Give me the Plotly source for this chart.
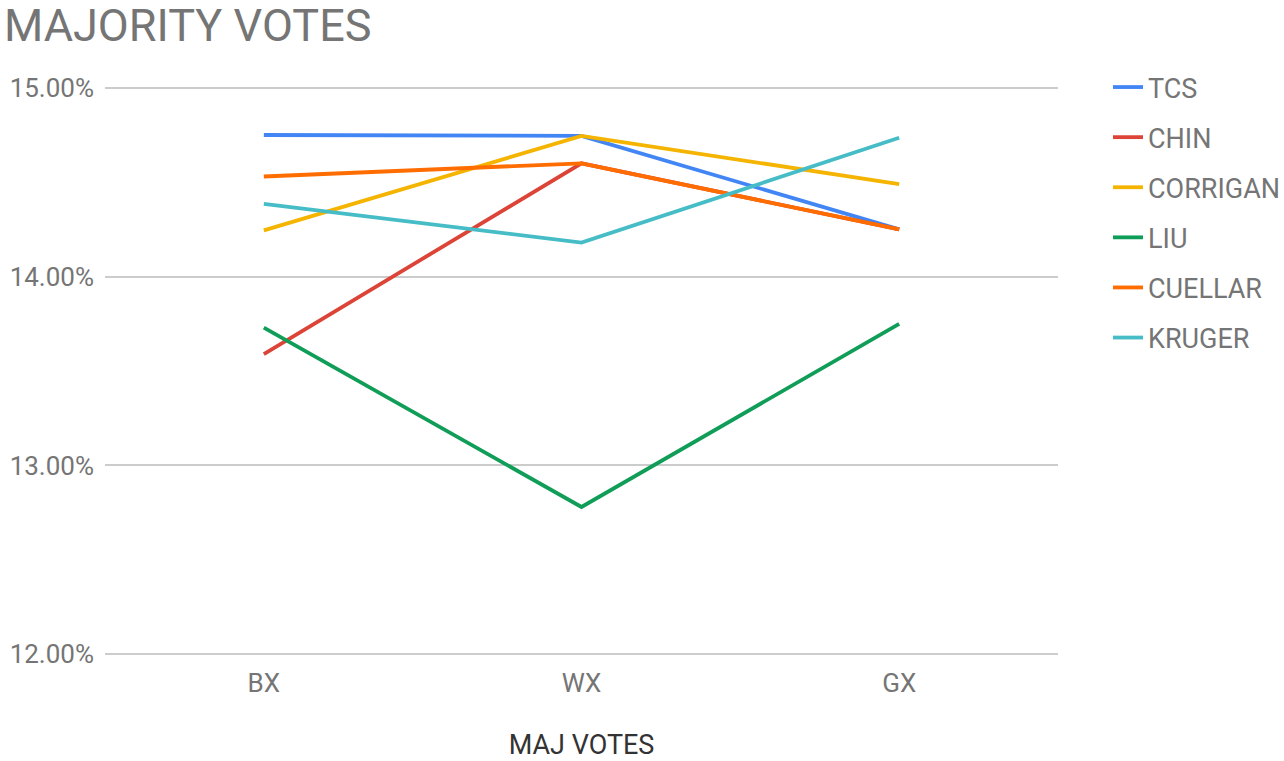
import plotly.graph_objects as go

categories = ["BX", "WX", "GX"]
series_names = ["TCS", "CHIN", "CORRIGAN", "LIU", "CUELLAR", "KRUGER"]
tcs = [14.75, 14.745, 14.25]
chin = [13.59, 14.60, 14.25]
corrigan = [14.245, 14.745, 14.49]
liu = [13.73, 12.78, 13.75]
cuellar = [14.53, 14.60, 14.25]
kruger = [14.385, 14.18, 14.735]
colors = ["#4285F4", "#DB4437", "#F4B400", "#0F9D58", "#FF6D00", "#46BDC6"]
y_tick_values = [12, 13, 14, 15]
y_tick_labels = ["12.00%", "13.00%", "14.00%", "15.00%"]

values = [tcs, chin, corrigan, liu, cuellar, kruger]

fig = go.Figure()
for name, vals, col in zip(series_names, values, colors):
    fig.add_trace(go.Scatter(
        x=categories, y=vals, name=name, mode="lines",
        line=dict(color=col, width=3.8), legendgroup=name,
    ))

font_family = "Roboto, Arial, sans-serif"
fig.update_layout(
    width=1284, height=761,
    paper_bgcolor="white", plot_bgcolor="white",
    margin=dict(l=105, r=226, t=84, b=103, autoexpand=False),
    title=dict(text="MAJORITY VOTES", x=4/1284, xanchor="left", xref="container",
               y=1-25/761, yanchor="middle", yref="container",
               font=dict(family=font_family, size=45, color="#757575")),
    font=dict(family=font_family, size=26, color="#757575"),
    xaxis=dict(showgrid=False, showline=False, zeroline=False, ticks="",
               range=[-0.5, 2.5], ticklabelstandoff=7, automargin=False,
               tickfont=dict(size=26, color="#757575"),
               title=dict(text="MAJ VOTES", font=dict(size=27, color="#333333"), standoff=42)),
    yaxis=dict(range=[11.98, 15.02], tickvals=y_tick_values, ticktext=y_tick_labels,
               showgrid=True, gridcolor="#CCCCCC", gridwidth=1.5, zeroline=False, showline=False,
               ticks="", ticklabelstandoff=10, automargin=False,
               tickfont=dict(size=26, color="#757575")),
    legend=dict(x=1108/1284, xanchor="left", xref="container",
                y=1-63/761, yanchor="top", yref="container",
                font=dict(size=27, color="#757575"), tracegroupgap=12,
                bgcolor="rgba(0,0,0,0)"),
)

fig.write_html("out.html", config={"displayModeBar": False},
               post_script="document.body.style.margin='0';")
